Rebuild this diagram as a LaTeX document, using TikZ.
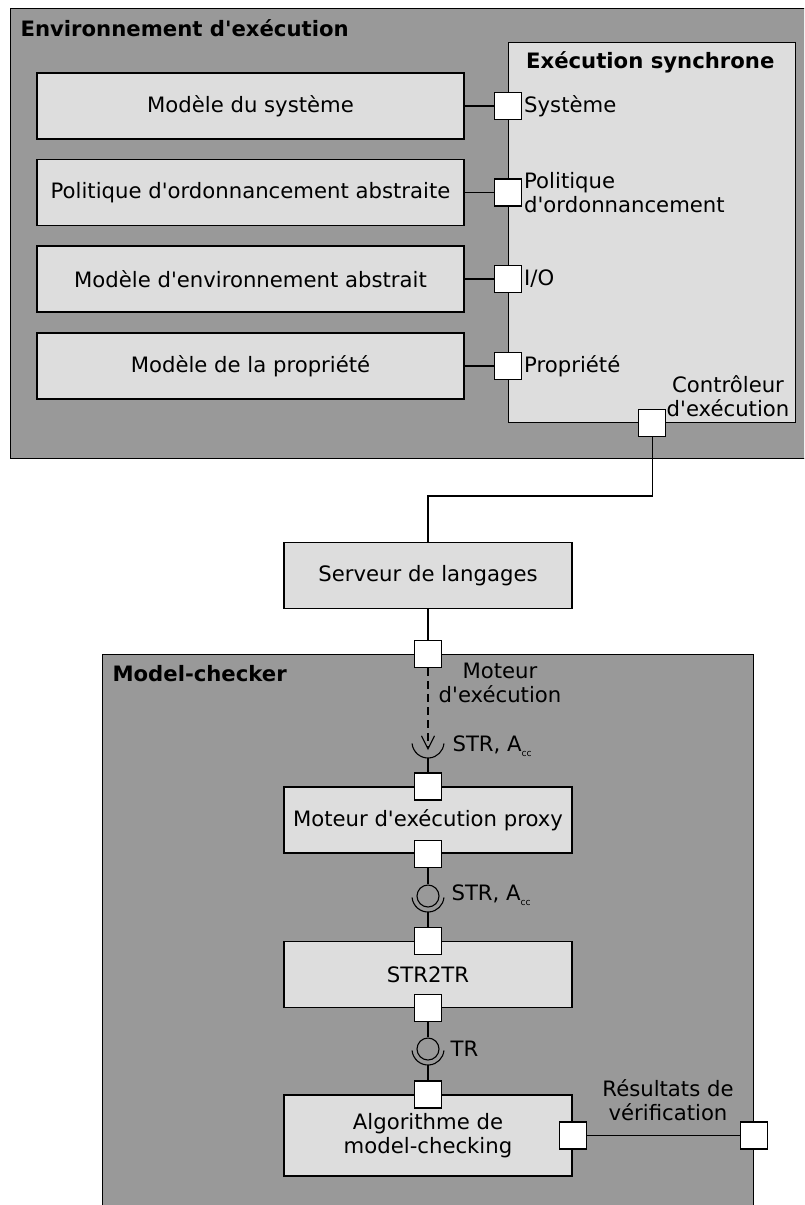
\documentclass[tikz,border=0pt]{standalone}
\usepackage{fontspec}
\setmainfont{DejaVu Sans}[Ligatures=TeXOff]
\usetikzlibrary{positioning,arrows.meta}
\definecolor{envgray}{RGB}{153,153,153}
\definecolor{boxgray}{RGB}{221,221,221}
\newcommand{\Acc}{A\raisebox{-0.45ex}{\fontsize{4.6}{5}\selectfont cc}}

\begin{document}
\begin{tikzpicture}[x=0.5pt, y=-0.5pt, line width=0.55pt,
    every node/.style={font=\fontsize{10.6}{12}\selectfont},
    container/.style={draw, fill=envgray, anchor=north west, inner sep=0pt},
    block/.style={draw, fill=boxgray, minimum width=144pt, minimum height=33pt, align=center, inner sep=0pt},
    wideblock/.style={block, minimum width=213.5pt},
    port/.style={draw, fill=white, minimum size=13.5pt, inner sep=0pt},
    ball/.style={draw, circle, minimum size=11pt, inner sep=0pt},
    title/.style={font=\fontsize{10.6}{12}\selectfont\bfseries, inner sep=0pt},
    lbl/.style={inner sep=0pt, align=left}]

\clip (0,0) rectangle (804,1205);

% Execution environment
\node[container, minimum width=402.5pt, minimum height=225pt] (env) at (10,8) {};
\node[title, anchor=west] (envtitle) at (20,28) {Environnement d'exécution};

\node[draw, fill=boxgray, anchor=north west, minimum width=143.5pt, minimum height=190pt, inner sep=0pt] (sync) at (508,42) {};
\node[title, anchor=east] (synctitle) at (775,62) {Exécution synchrone};

\node[wideblock] (sys) at (250.5,106) {Modèle du système};
\node[wideblock] (pol) at (250.5,192.5) {Politique d'ordonnancement abstraite};
\node[wideblock] (envm) at (250.5,279) {Modèle d'environnement abstrait};
\node[wideblock] (prop) at (250.5,366) {Modèle de la propriété};

%ports of the synchronous execution
\node[port] (psys) at (sys.east -| sync.west) {};
\node[port] (ppol) at (pol.east -| sync.west) {};
\node[port] (penv) at (envm.east -| sync.west) {};
\node[port] (pprop) at (prop.east -| sync.west) {};
\draw (sys) -- (psys);
\draw (pol) -- (ppol);
\draw (envm) -- (penv);
\draw (prop) -- (pprop);

\node[lbl, anchor=west] (lsys) at ([xshift=0.8pt]psys.east) {Système};
\node[lbl, anchor=west] (lpol) at ([xshift=0.8pt]ppol.east) {Politique\\d'ordonnancement};
\node[lbl, anchor=west] (lenv) at ([xshift=0.8pt]penv.east) {I/O};
\node[lbl, anchor=west] (lprop) at ([xshift=0.8pt]pprop.east) {Propriété};

\node[port] (pctl) at (sync.south) {};
\node[inner sep=0pt, align=center] (lctl) at (728,396) {Contrôleur\\d'exécution};

% Language server
\node[block] (srv) at (428,575.5) {Serveur de langages};
\coordinate (bend) at (428,496);
\draw (pctl.south) |- (bend) -- (srv.north);

% Model-checker
\node[container, minimum width=325.5pt, minimum height=300pt] (mc) at (102,654) {};
\node[title, anchor=west] (mctitle) at (112,674) {Model-checker};

\node[port] (pmot) at (srv.south |- mc.north) {};
\draw (srv) -- (pmot);
\node[inner sep=0pt, align=center] (lmot) at (500,683) {Moteur\\d'exécution};

%required interface with arrow
\coordinate (sk0) at (428,742);
\path (sk0) ++(0,8) coordinate (tip0);
\path (sk0) ++(0,16) coordinate (sk0b);
\draw[dash pattern=on 4pt off 2.5pt, -{Straight Barb[length=6.5pt,width=6.5pt]}] (pmot.south) -- (tip0);
\draw (sk0) ++(185:8pt) arc[start angle=185, end angle=355, radius=8pt];
\node[lbl, anchor=west] (lstr0) at (452,746) {STR, \Acc};

\node[block] (proxy) at (428,820) {Moteur d'exécution proxy};
\node[port] (pproxin) at (proxy.north) {};
\node[port] (pproxout) at (proxy.south) {};
\draw (sk0b) -- (pproxin);

%first ball and socket
\node[ball] (ball1) at (428,896) {};
\path (ball1.center) ++(0,16) coordinate (sk1b);
\draw (pproxout) -- (ball1);
\draw (ball1.center) ++(185:8pt) arc[start angle=185, end angle=355, radius=8pt];
\node[lbl, anchor=west] (lstr1) at (451,895) {STR, \Acc};

\node[block] (str) at (428,974.5) {STR2TR};
\node[port] (pstrin) at (str.north) {};
\node[port] (pstrout) at (str.south) {};
\draw (sk1b) -- (pstrin);

%second ball and socket
\node[ball] (ball2) at (428,1049) {};
\path (ball2.center) ++(0,16) coordinate (sk2b);
\draw (pstrout) -- (ball2);
\draw (ball2.center) ++(185:8pt) arc[start angle=185, end angle=355, radius=8pt];
\node[lbl, anchor=west] (ltr) at (450,1049) {TR};

\node[block, minimum height=40.5pt] (algo) at (428,1135.5) {Algorithme de\\model-checking};
\node[port] (palgoin) at (algo.north) {};
\node[port] (palgoout) at (algo.east) {};
\draw (sk2b) -- (palgoin);

\node[port] (pres) at (palgoout -| mc.east) {};
\draw (palgoout) -- (pres);
\node[inner sep=0pt, align=center] (lres) at (668,1100) {Résultats de\\vérification};

\end{tikzpicture}
\end{document}
